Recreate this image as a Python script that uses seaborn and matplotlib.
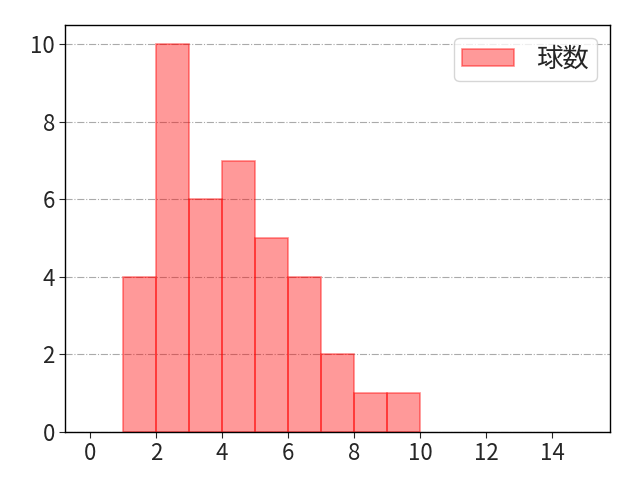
import numpy as np
import matplotlib
matplotlib.use("Agg")
import matplotlib.pyplot as plt
import seaborn as sns

# 球数の分布 (bin = 1)
bin_left = [1, 2, 3, 4, 5, 6, 7, 8, 9]
counts = [4, 10, 6, 7, 5, 4, 2, 1, 1]
bin_edges = bin_left + [bin_left[-1] + 1]

sns.set_style("white")
plt.rcParams['font.family'] = ['Noto Sans CJK JP', 'DejaVu Sans']

fig, ax = plt.subplots(figsize=(6.4, 4.8), dpi=100)
centers = np.array(bin_left) + 0.5
sns.histplot(x=centers, weights=counts, bins=bin_edges, ax=ax,
             facecolor=(1, 0, 0, 0.4), edgecolor=(1, 0, 0, 0.45),
             linewidth=1.2, label="球数")

ax.set_xlim(-0.75, 15.75)
ax.set_ylim(0, 10.5)
ax.set_xticks([0, 2, 4, 6, 8, 10, 12, 14])
ax.set_yticks([0, 2, 4, 6, 8, 10])
ax.set_xlabel("")
ax.set_ylabel("")
ax.tick_params(labelsize=16, length=4, direction="out", bottom=True, left=True)
ax.yaxis.grid(True, linestyle="-.", color="#aaaaaa", linewidth=0.8)
ax.set_axisbelow(True)
for s in ax.spines.values():
    s.set_color("black")
    s.set_linewidth(1)
ax.legend(loc="upper right", fontsize=19, handletextpad=0.85, handlelength=1.95,
          handleheight=0.6, borderpad=0.3, borderaxespad=0.5)

fig.subplots_adjust(left=0.102, right=0.953, top=0.948, bottom=0.1)
fig.savefig("out.png", dpi=100)
